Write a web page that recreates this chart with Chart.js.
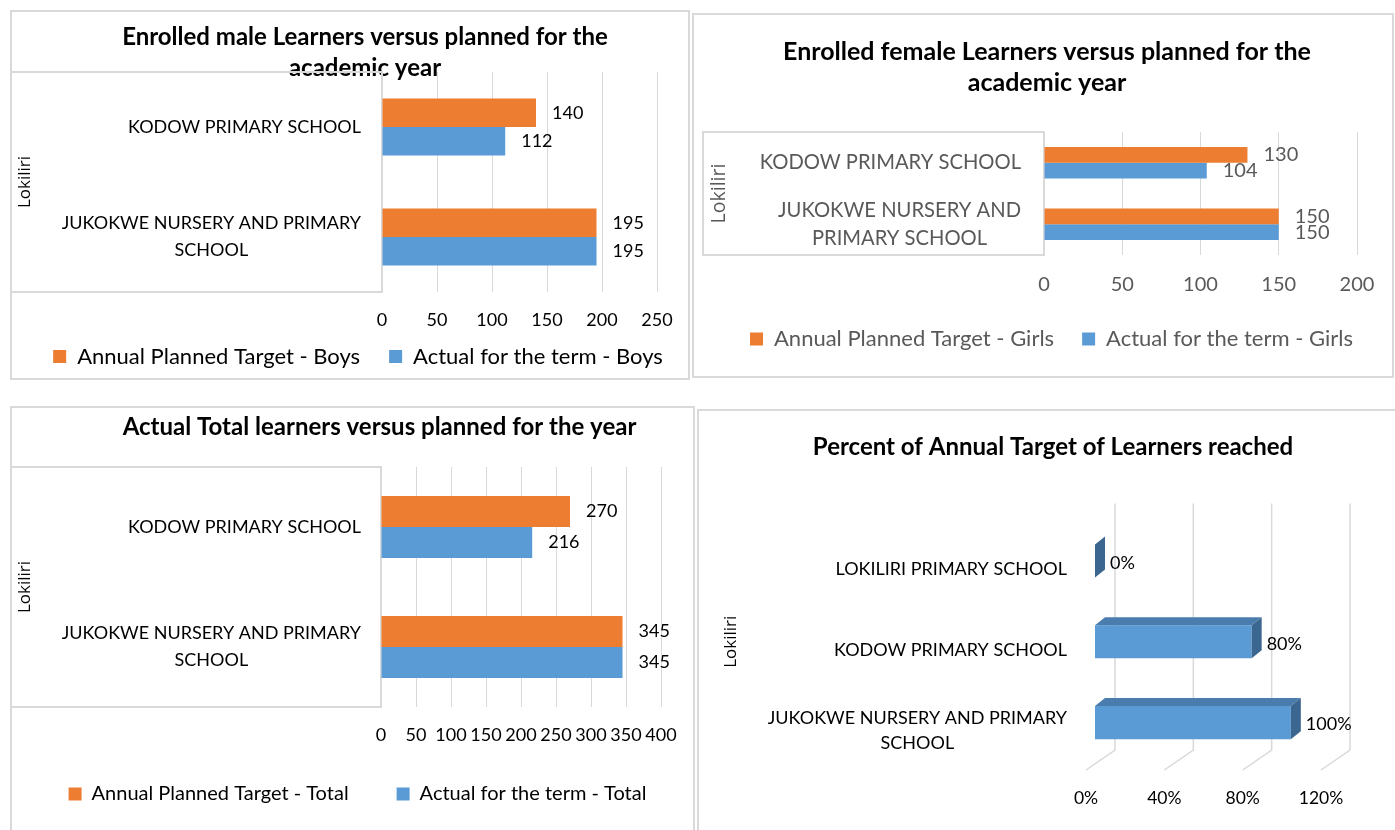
<!DOCTYPE html>
<html>
<head>
<meta charset="utf-8">
<script src="https://cdn.jsdelivr.net/npm/chart.js@4.4.1/dist/chart.umd.min.js"></script>
<style>
  body { margin: 0; background: #fff; width: 1395px; height: 830px; overflow: hidden; position: relative; }
  .panel { position: absolute; outline: 2px solid #d9d9d9; outline-offset: -2px; }
</style>
</head>
<body>
<div class="panel" style="left:10px;top:10px;width:680px;height:370px"><canvas id="boys"></canvas></div>
<div class="panel" style="left:692px;top:13px;width:702px;height:365px"><canvas id="girls"></canvas></div>
<div class="panel" style="left:10px;top:406px;width:685px;height:430px"><canvas id="total"></canvas></div>
<div class="panel" style="left:697px;top:409px;width:700px;height:430px"><canvas id="percent"></canvas></div>
<script>
// data
const schools = ['KODOW PRIMARY SCHOOL', 'JUKOKWE NURSERY AND PRIMARY SCHOOL'];
const boysTarget = [140, 195];
const boysActual = [112, 195];
const girlsTarget = [130, 150];
const girlsActual = [104, 150];
const totalTarget = [270, 345];
const totalActual = [216, 345];

const pctSchools = ['LOKILIRI PRIMARY SCHOOL', 'KODOW PRIMARY SCHOOL', 'JUKOKWE NURSERY AND PRIMARY SCHOOL'];
const pctReached = [0, 0.8, 1.0];

const orange = '#ed7d31';
const blue = '#5b9bd5';
const gridGrey = '#d9d9d9';

Chart.defaults.font.family = 'Lato, "Liberation Sans", sans-serif';
Chart.defaults.color = '#000';
Chart.defaults.animation = false;

function wrapWords(ctx, text, maxW) {
  const words = text.split(' ');
  const lines = [];
  let line = '';
  for (const w of words) {
    const test = line ? line + ' ' + w : w;
    if (line && ctx.measureText(test).width > maxW) {
      lines.push(line);
      line = w;
    } else {
      line = test;
    }
  }
  lines.push(line);
  return lines;
}

// excel puts the title / legend a bit off centre, move them after layout
const nudge = {
  id: 'nudge',
  afterLayout(chart, args, o) {
    const t = chart.titleBlock, l = chart.legend;
    if (t && o.title) { t.left += o.title; t.right += o.title; }
    if (l && o.legend) { l.left += o.legend; l.right += o.legend; }
    if (l && o.legendDy) { l.top += o.legendDy; l.bottom += o.legendDy; }
  }
};

// the white box round the category labels
const catBox = {
  id: 'catBox',
  beforeDatasetsDraw(chart, args, o) {
    const {ctx, chartArea: a} = chart;
    ctx.save();
    ctx.strokeStyle = gridGrey;
    ctx.lineWidth = 2;
    ctx.strokeRect(o.left, a.top, a.left - o.left, a.bottom - a.top);
    ctx.restore();
  }
};

// category names, wrapped and centred line by line like excel does
const catLabels = {
  id: 'catLabels',
  afterDatasetsDraw(chart, args, o) {
    const {ctx, chartArea} = chart;
    const yScale = chart.scales.y;
    ctx.save();
    ctx.font = o.size + 'px Lato';
    ctx.fillStyle = o.color;
    ctx.textAlign = 'center';
    ctx.textBaseline = 'middle';
    chart.data.labels.forEach((name, i) => {
      const lines = wrapWords(ctx, name, o.wrap);
      const w = Math.max(...lines.map(l => ctx.measureText(l).width));
      const cx = chartArea.left - o.gap - w / 2;
      const y0 = yScale.getPixelForValue(i) + (o.dy || 0) - (lines.length - 1) * o.lineGap / 2;
      lines.forEach((l, k) => ctx.fillText(l, cx, y0 + k * o.lineGap));
    });
    ctx.restore();
  }
};

const valueLabels = {
  id: 'valueLabels',
  afterDatasetsDraw(chart, args, o) {
    const {ctx} = chart;
    ctx.save();
    ctx.font = o.size + 'px Lato';
    ctx.fillStyle = o.color;
    ctx.textAlign = 'left';
    ctx.textBaseline = 'middle';
    chart.data.datasets.forEach((ds, d) => {
      chart.getDatasetMeta(d).data.forEach((bar, i) => {
        const v = ds.data[i];
        const txt = o.percent ? Math.round(v * 100) + '%' : String(v);
        ctx.fillText(txt, bar.x + o.gap, bar.y + (o.dy || 0));
      });
    });
    ctx.restore();
  }
};

// fake 3-d: back wall grid lines and top / side faces of the bars
const bars3d = {
  id: 'bars3d',
  beforeDatasetsDraw(chart) {
    const {ctx, chartArea: a, scales: {x}} = chart;
    ctx.save();
    ctx.strokeStyle = gridGrey;
    ctx.lineWidth = 1.5;
    x.ticks.forEach(t => {
      const px = x.getPixelForValue(t.value);
      ctx.beginPath();
      ctx.moveTo(px + 20, a.top - 17);
      ctx.lineTo(px + 20, a.bottom - 13);
      ctx.lineTo(px - 9, a.bottom + 7);
      ctx.stroke();
    });
    ctx.restore();
  },
  afterDatasetsDraw(chart) {
    const {ctx} = chart;
    const dx = 10, dy = 8;
    ctx.save();
    chart.getDatasetMeta(0).data.forEach(bar => {
      const top = bar.y - bar.height / 2;
      const bot = bar.y + bar.height / 2;
      ctx.fillStyle = '#4a7cad';
      ctx.beginPath();
      ctx.moveTo(bar.base, top);
      ctx.lineTo(bar.x, top);
      ctx.lineTo(bar.x + dx, top - dy);
      ctx.lineTo(bar.base + dx, top - dy);
      ctx.closePath();
      ctx.fill();
      ctx.fillStyle = '#3b6690';
      ctx.beginPath();
      ctx.moveTo(bar.x, top);
      ctx.lineTo(bar.x + dx, top - dy);
      ctx.lineTo(bar.x + dx, bot - dy);
      ctx.lineTo(bar.x, bot);
      ctx.closePath();
      ctx.fill();
    });
    ctx.restore();
  }
};

function makeScales(o) {
  return {
    x: {
      min: 0,
      max: o.max,
      ticks: {
        stepSize: o.step, padding: o.tickPad, font: {size: o.tickSize}, color: o.color,
        autoSkip: false, maxRotation: 0, labelOffset: o.labelOffset || 0,
        callback: o.fmt || (v => v)
      },
      grid: {display: o.grid !== false, color: gridGrey, drawTicks: false},
      border: {display: false},
      afterFit: s => { s.height = o.xHeight; }
    },
    y: {
      ticks: {display: false},
      grid: {display: false},
      border: {display: false},
      title: {
        display: true, text: 'Lokiliri', color: o.color,
        font: {family: '"Open Sans"', size: o.axisTitleSize}, padding: {top: 4, bottom: 4}
      },
      afterFit: s => { s.width = o.yWidth; }
    },
    edge: {
      type: 'linear', position: 'right', display: true,
      ticks: {display: false}, grid: {display: false}, border: {display: false},
      afterFit: s => { s.width = o.edgeWidth; }
    }
  };
}

function make_pair(cnv, target, actual, names, o) {
  new Chart(cnv, {
    type: 'bar',
    data: {
      labels: schools,
      datasets: [
        {label: names[0], data: target, backgroundColor: orange, borderWidth: 0},
        {label: names[1], data: actual, backgroundColor: blue, borderWidth: 0}
      ]
    },
    options: {
      indexAxis: 'y',
      responsive: true,
      maintainAspectRatio: false,
      datasets: {bar: {categoryPercentage: o.catPct, barPercentage: 1}},
      layout: {padding: {left: o.padLeft, right: 0, top: 0, bottom: o.padBottom}},
      scales: makeScales(o),
      plugins: {
        tooltip: {enabled: false},
        title: {
          display: true, text: o.title, color: '#000',
          font: {size: o.titleSize, weight: 'bold', lineHeight: '31px'},
          padding: {top: o.titleTop, bottom: o.titleBottom}
        },
        legend: {
          position: 'bottom',
          labels: {
            font: {size: o.legendSize}, color: o.color,
            boxWidth: 13, boxHeight: 13, padding: o.legendPad
          }
        },
        nudge: {title: o.titleDx, legend: o.legendDx, legendDy: o.legendDy},
        catBox: {left: o.boxLeft},
        catLabels: {size: o.catSize, color: o.color, gap: o.catGap, lineGap: o.lineGap, wrap: o.wrap},
        valueLabels: {size: o.valueSize, color: o.color, gap: 16}
      }
    },
    plugins: [nudge, catBox, catLabels, valueLabels]
  });
}

function make_percent(cnv) {
  const o = {
    max: 1.2, step: 0.4, tickPad: 24.5, tickSize: 17.5, color: '#000', labelOffset: -9,
    fmt: v => Math.round(v * 100) + '%', grid: false,
    xHeight: 46, yWidth: 378, edgeWidth: 67, axisTitleSize: 17
  };
  new Chart(cnv, {
    type: 'bar',
    data: {
      labels: pctSchools,
      datasets: [{label: 'Percent reached', data: pctReached, backgroundColor: blue, borderWidth: 0}]
    },
    options: {
      indexAxis: 'y',
      responsive: true,
      maintainAspectRatio: false,
      datasets: {bar: {categoryPercentage: 0.41, barPercentage: 1}},
      layout: {padding: {left: 20, right: 0, top: 0, bottom: 30}},
      scales: makeScales(o),
      plugins: {
        tooltip: {enabled: false},
        legend: {display: false},
        title: {
          display: true, text: 'Percent of Annual Target of Learners reached', color: '#000',
          font: {size: 24, weight: 'bold', lineHeight: '31px'},
          padding: {top: 22.5, bottom: 58.1}
        },
        nudge: {title: -4},
        catLabels: {size: 18, color: '#000', gap: 28, lineGap: 25, wrap: 320, dy: 8},
        valueLabels: {size: 18, color: '#000', gap: 15, dy: 2, percent: true}
      }
    },
    plugins: [nudge, bars3d, catLabels, valueLabels]
  });
}

function drawAll() {
  make_pair(document.getElementById('boys'), boysTarget, boysActual,
    ['Annual Planned Target - Boys', 'Actual for the term - Boys'], {
      title: ['Enrolled male Learners versus planned for the', 'academic year'],
      titleSize: 24, titleTop: 11.5, titleBottom: -11.5, titleDx: 14.5,
      max: 250, step: 50, tickPad: 17, tickSize: 18, xHeight: 40,
      padLeft: 1, padBottom: -13, yWidth: 371, edgeWidth: 33, axisTitleSize: 17,
      legendSize: 22, legendPad: 29, legendDx: 7.5, legendDy: -15.5,
      catPct: 0.52, boxLeft: 1, catSize: 18, catGap: 21, lineGap: 27, wrap: 320,
      valueSize: 18, color: '#000'
    });

  make_pair(document.getElementById('girls'), girlsTarget, girlsActual,
    ['Annual Planned Target - Girls', 'Actual for the term - Girls'], {
      title: ['Enrolled female Learners versus planned for the', 'academic year'],
      titleSize: 25, titleTop: 23.5, titleBottom: 33.5, titleDx: -2,
      max: 200, step: 50, tickPad: 18, tickSize: 20, xHeight: 46,
      padLeft: 12, padBottom: 17, yWidth: 340, edgeWidth: 37, axisTitleSize: 19.5,
      legendSize: 22, legendPad: 28, legendDx: 2.5, legendDy: -1,
      catPct: 0.51, boxLeft: 11, catSize: 20.2, catGap: 23, lineGap: 28, wrap: 280,
      valueSize: 20, color: '#595959'
    });

  make_pair(document.getElementById('total'), totalTarget, totalActual,
    ['Annual Planned Target - Total', 'Actual for the term - Total'], {
      title: 'Actual Total learners versus planned for the year',
      titleSize: 24, titleTop: 5.5, titleBottom: 24.5, titleDx: 26.5,
      max: 400, step: 50, tickPad: 17.2, tickSize: 18, xHeight: 40,
      padLeft: 1, padBottom: 11, yWidth: 370, edgeWidth: 34, axisTitleSize: 17,
      legendSize: 20, legendPad: 48, legendDx: 4.5, legendDy: -11,
      catPct: 0.517, boxLeft: 1, catSize: 18, catGap: 20, lineGap: 27, wrap: 320,
      valueSize: 18, color: '#000'
    });

  make_percent(document.getElementById('percent'));
}

Promise.all([
  document.fonts.load('18px Lato'),
  document.fonts.load('bold 21px Lato'),
  document.fonts.load('17px "Open Sans"')
]).then(drawAll, drawAll);
</script>
</body>
</html>
